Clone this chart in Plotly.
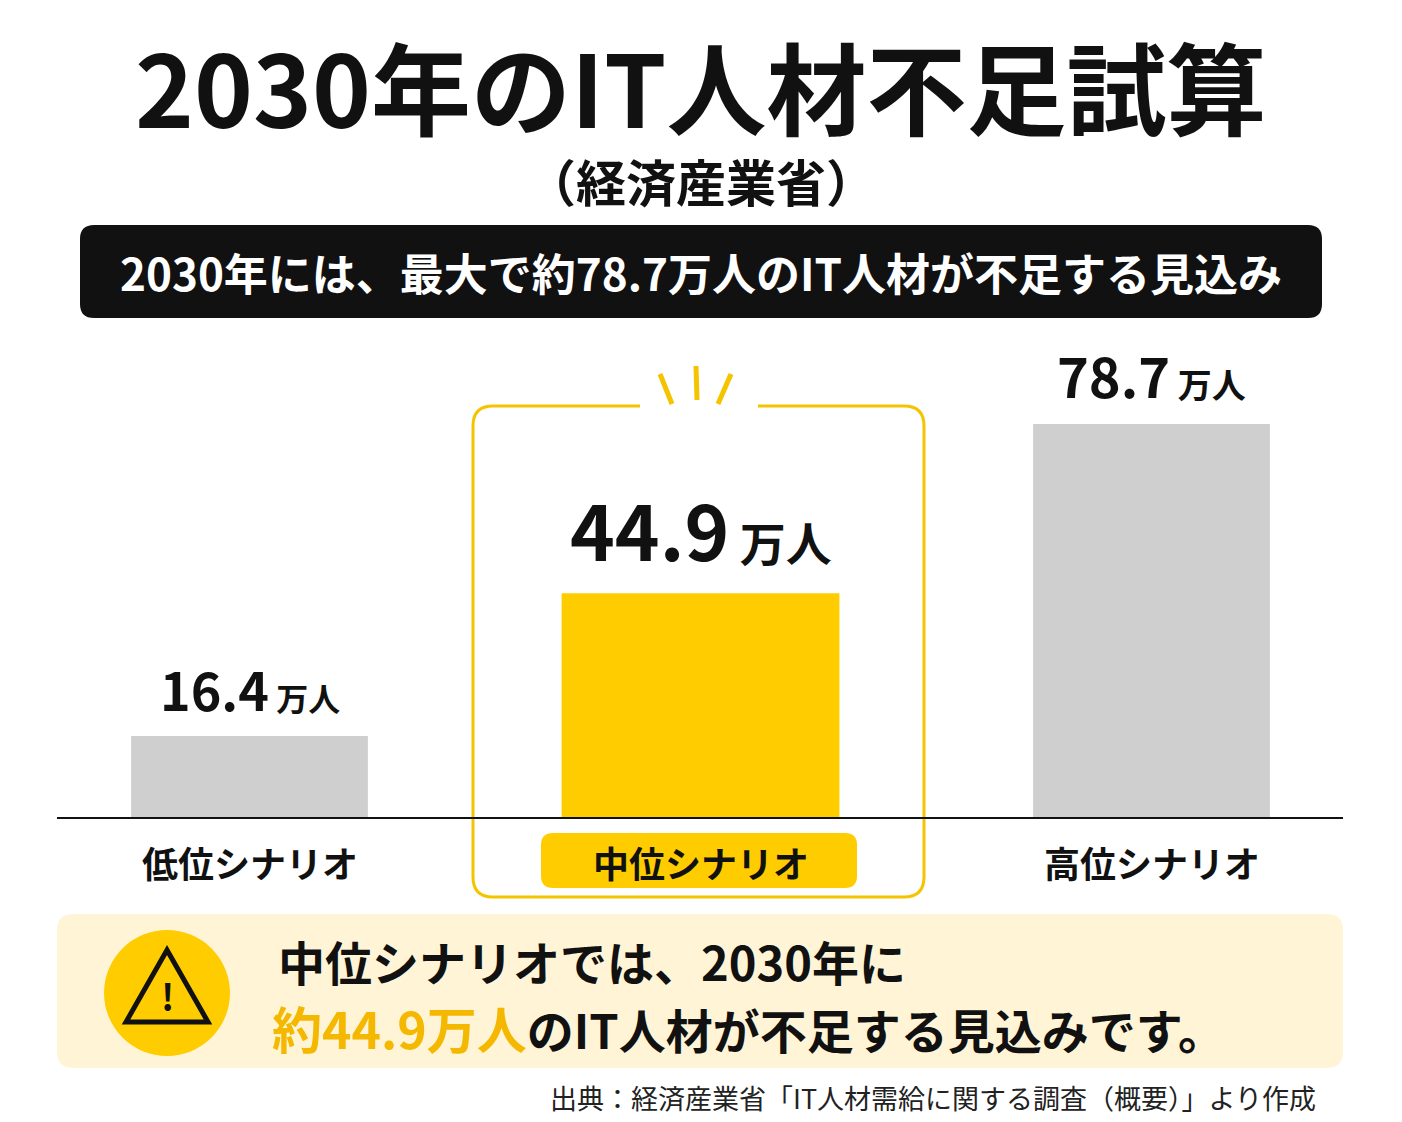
import plotly.graph_objects as go

categories = ["低位シナリオ", "中位シナリオ", "高位シナリオ"]
values = [16.4, 44.9, 78.7]
bar_colors = ["#CFCFCF", "#FFCC00", "#CFCFCF"]
bar_widths = [0.525, 0.616, 0.525]
label_sizes = [52, 76, 54]
unit_sizes = [32, 46, 34]

W, H = 1402, 1122
OFF = 8
FONT = "Noto Sans CJK JP"
YEL = "#FFCC00"

def X(p): return (p - OFF) / W
def Y(p): return 1 - (p - OFF) / H

def rr(x0, y0, x1, y1, r):
    return (f"M{X(x0+r)},{Y(y0)} L{X(x1-r)},{Y(y0)} Q{X(x1)},{Y(y0)} {X(x1)},{Y(y0+r)} "
            f"L{X(x1)},{Y(y1-r)} Q{X(x1)},{Y(y1)} {X(x1-r)},{Y(y1)} L{X(x0+r)},{Y(y1)} "
            f"Q{X(x0)},{Y(y1)} {X(x0)},{Y(y1-r)} L{X(x0)},{Y(y0+r)} Q{X(x0)},{Y(y0)} {X(x0+r)},{Y(y0)} Z")

fig = go.Figure(go.Bar(x=list(range(len(values))), y=values, width=bar_widths,
                       marker=dict(color=bar_colors, line_width=0), hoverinfo="skip"))

ppu_x = 451
ppu_y = 394 / 78.7
cx0 = 249.5 - OFF
base = 818 - OFF
fig.update_xaxes(range=[-cx0 / ppu_x, (W - cx0) / ppu_x], visible=False, fixedrange=True)
fig.update_yaxes(range=[-(H - base) / ppu_y, base / ppu_y], visible=False, fixedrange=True)

shapes = []
ann = []
def text(x, y, t, size, color="#111", xa="center", bold=True):
    ann.append(dict(xref="paper", yref="paper", x=X(x), y=Y(y), text=f"<b>{t}</b>" if bold else t,
                    showarrow=False, xanchor=xa, yanchor="middle",
                    font=dict(family=FONT, size=size, color=color)))

text(701, 85, "2030年のIT人材不足試算", 100)
text(701, 180, "（経済産業省）", 50)
shapes.append(dict(type="path", xref="paper", yref="paper", path=rr(80, 225, 1322, 318, 14),
                   fillcolor="#111", line_width=0))
text(701, 272, "2030年には、最大で約78.7万人のIT人材が不足する見込み", 44, "white")

c = "#F5C400"
p = (f"M{X(640)},{Y(406)} L{X(493)},{Y(406)} Q{X(473)},{Y(406)} {X(473)},{Y(426)} "
     f"L{X(473)},{Y(877)} Q{X(473)},{Y(897)} {X(493)},{Y(897)} L{X(904)},{Y(897)} "
     f"Q{X(924)},{Y(897)} {X(924)},{Y(877)} L{X(924)},{Y(426)} Q{X(924)},{Y(406)} {X(904)},{Y(406)} "
     f"L{X(758)},{Y(406)}")
shapes.append(dict(type="path", xref="paper", yref="paper", path=p, line=dict(color=c, width=3)))
for (a, b, cc, d) in [(660, 374, 672, 404), (696, 366, 697, 400), (731, 374, 718, 404)]:
    shapes.append(dict(type="line", xref="paper", yref="paper", x0=X(a), y0=Y(b), x1=X(cc), y1=Y(d),
                       line=dict(color=c, width=5)))

shapes.append(dict(type="line", xref="paper", yref="paper", x0=X(57), x1=X(1343), y0=Y(818), y1=Y(818),
                   line=dict(color="#111", width=2)))

for i, v in enumerate(values):
    ann.append(dict(x=i, y=v, xref="x", yref="y", showarrow=False, yanchor="bottom", yshift=8,
                    text=f"<b>{v}</b><span style='font-size:{unit_sizes[i]}px'><b> 万人</b></span>",
                    font=dict(family=FONT, size=label_sizes[i], color="#111")))

shapes.append(dict(type="path", xref="paper", yref="paper", path=rr(541, 833, 857, 888, 12),
                   fillcolor=YEL, line_width=0))
for i, cat in enumerate(categories):
    ann.append(dict(x=i, y=0, xref="x", yref="y", showarrow=False, yanchor="middle", yshift=-44,
                    text=f"<b>{cat}</b>", font=dict(family=FONT, size=36, color="#111")))

shapes.append(dict(type="path", xref="paper", yref="paper", path=rr(57, 914, 1343, 1068, 16),
                   fillcolor="#FFF5D6", line_width=0))
shapes.append(dict(type="circle", xref="paper", yref="paper", x0=X(104), x1=X(230), y0=Y(930), y1=Y(1056),
                   fillcolor=YEL, line_width=0))
tri = f"M{X(167)},{Y(950)} L{X(208)},{Y(1022)} L{X(126)},{Y(1022)} Z"
shapes.append(dict(type="path", xref="paper", yref="paper", path=tri, line=dict(color="#111", width=5)))
text(167, 995, "!", 36)
text(276, 960, "中位シナリオでは、2030年に", 47, xa="left")
ann.append(dict(xref="paper", yref="paper", x=X(270), y=Y(1027), xanchor="left", yanchor="middle",
                showarrow=False, font=dict(family=FONT, size=47, color="#111"),
                text="<b><span style='color:#F5B800;font-size:50px'>約44.9万人</span>のIT人材が不足する見込みです。</b>"))
text(1318, 1097, "出典：経済産業省「IT人材需給に関する調査（概要）」より作成", 27, "#222", xa="right", bold=False)

fig.update_layout(width=W, height=H, margin=dict(l=0, r=0, t=0, b=0), showlegend=False,
                  paper_bgcolor="white", plot_bgcolor="white", shapes=shapes, annotations=ann)
fig.write_html("out.html", config={"displayModeBar": False})
